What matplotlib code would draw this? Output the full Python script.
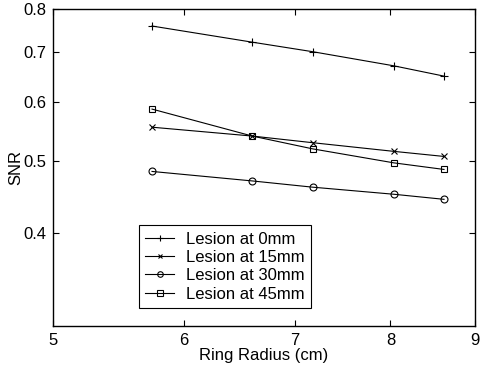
import matplotlib
matplotlib.use("Agg")
import matplotlib.pyplot as plt
from matplotlib.ticker import FixedLocator, FixedFormatter, NullLocator

plt.rcParams['font.family'] = ['Liberation Sans', 'DejaVu Sans']

ring_radius = [5.74, 6.60, 7.18, 8.04, 8.62]
snr_0mm = [0.759, 0.722, 0.701, 0.671, 0.650]
snr_15mm = [0.555, 0.540, 0.529, 0.515, 0.507]
snr_30mm = [0.484, 0.470, 0.461, 0.451, 0.444]
snr_45mm = [0.587, 0.540, 0.519, 0.497, 0.487]

series_labels = ['Lesion at 0mm', 'Lesion at 15mm', 'Lesion at 30mm', 'Lesion at 45mm']
x_ticks = [5, 6, 7, 8, 9]
y_ticks = [0.4, 0.5, 0.6, 0.7, 0.8]

fig = plt.figure(figsize=(4.81, 3.68), dpi=100)
ax = fig.add_axes([0.110, 0.114, 0.8775, 0.8615])

styles = [
    dict(marker='+', markersize=6, markeredgewidth=0.8),
    dict(marker='x', markersize=4, markeredgewidth=0.8),
    dict(marker='o', markersize=5, markerfacecolor='none', markeredgewidth=0.8),
    dict(marker='s', markersize=5, markerfacecolor='none', markeredgewidth=0.8),
]
for ys, lab, st in zip([snr_0mm, snr_15mm, snr_30mm, snr_45mm], series_labels, styles):
    ax.plot(ring_radius, ys, color='black', linewidth=0.8, label=lab, **st)

ax.set_xscale('log')
ax.set_yscale('log')
ax.set_xlim(5, 9)
ax.set_ylim(0.3, 0.8)

ax.xaxis.set_major_locator(FixedLocator(x_ticks))
ax.xaxis.set_major_formatter(FixedFormatter([str(v) for v in x_ticks]))
ax.xaxis.set_minor_locator(NullLocator())
ax.yaxis.set_major_locator(FixedLocator(y_ticks))
ax.yaxis.set_major_formatter(FixedFormatter([str(v) for v in y_ticks]))
ax.yaxis.set_minor_locator(NullLocator())

ax.tick_params(direction='in', top=True, right=True, length=4, width=0.8,
               labelsize=12, pad=5)
for sp in ax.spines.values():
    sp.set_linewidth(1.0)

ax.set_xlabel('Ring Radius (cm)', fontsize=12, labelpad=0)
ax.set_ylabel('SNR', fontsize=12, labelpad=0)

leg = ax.legend(loc='lower left', bbox_to_anchor=(0.203, 0.056), fontsize=12,
                frameon=True, fancybox=False, edgecolor='black', framealpha=1,
                handlelength=1.75, handletextpad=0.7, borderpad=0.4,
                labelspacing=0.2, borderaxespad=0, markerscale=0.8)
leg.get_frame().set_linewidth(0.8)

fig.savefig('out.png', dpi=100)
